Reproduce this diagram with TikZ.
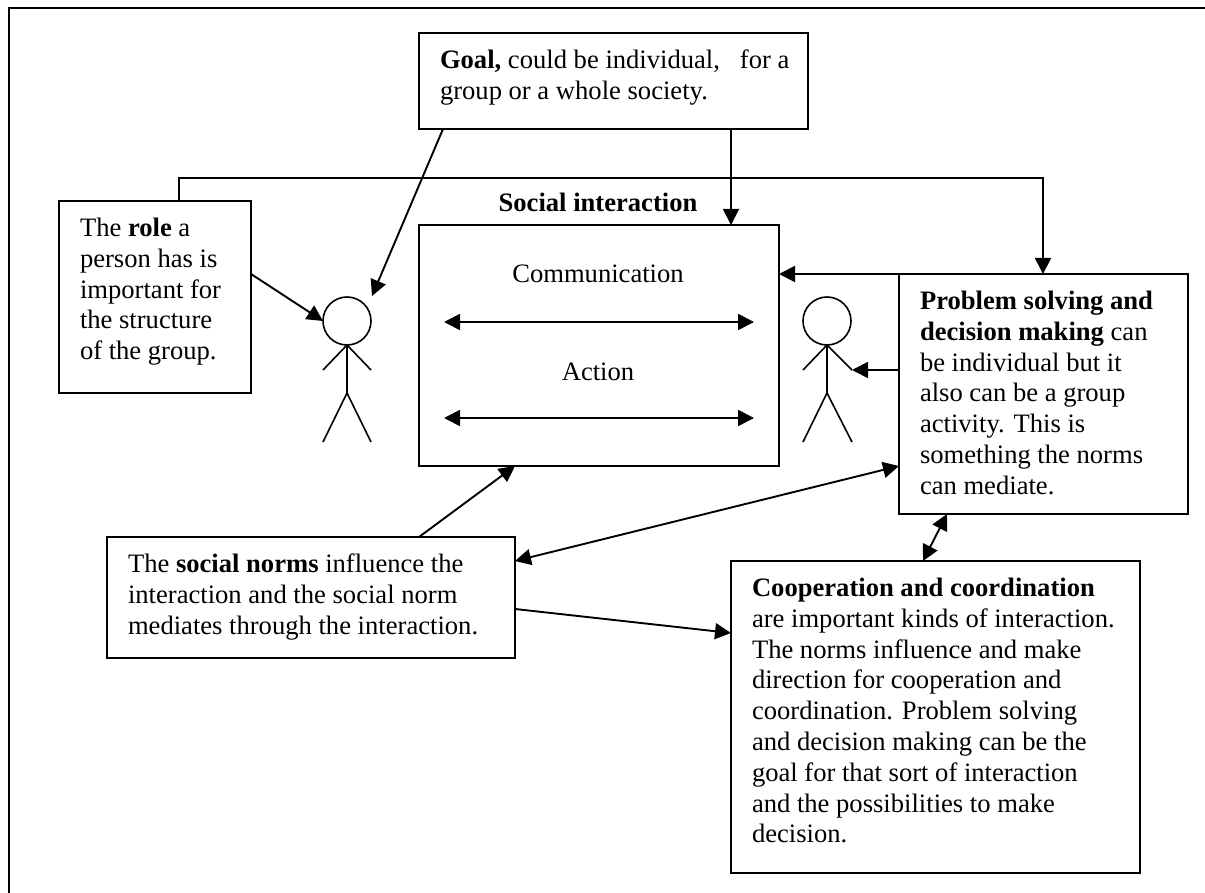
\documentclass[tikz,border=0pt]{standalone}
\usepackage{fontspec}
\setmainfont{Liberation Serif}
\usetikzlibrary{arrows.meta}
\newcommand{\boxnode}[6]{%
  \pgfmathsetlengthmacro{\bw}{#4-#2}\pgfmathsetlengthmacro{\bh}{#5-#3}%
  \pgfmathsetlengthmacro{\tw}{#4-#2-30}\pgfmathsetlengthmacro{\th}{#5-#3-28}%
  \node[tbox,minimum width=\bw,minimum height=\bh] (#1) at (#2,#3) {\parbox[c][\th][t]{\tw}{\raggedright\leftskip=6pt\strut #6}};}
\tikzset{
  tbox/.style={draw,line width=1.9pt,anchor=north west,inner xsep=15pt,inner ysep=14pt,outer sep=0pt,
    align=left,font=\fontsize{26.6}{30.8}\selectfont},
  lab/.style={anchor=base,inner sep=0pt,font=\fontsize{26.6}{30.8}\selectfont},
  line/.style={line width=1.9pt},
  arr/.style={line width=1.9pt,-{Triangle[length=16pt,width=16pt]}},
  darr/.style={line width=1.9pt,{Triangle[length=16pt,width=16pt]}-{Triangle[length=16pt,width=16pt]}},
  limb/.style={line width=1.6pt},
  head/.style={draw,circle,line width=1.6pt,minimum size=48pt,inner sep=0pt,outer sep=0pt},
}
\begin{document}
\begin{tikzpicture}[x=1pt,y=-1pt]
\useasboundingbox (0,0) rectangle (1205,893);
% outer frame
\coordinate (fbl) at (9,893);
\coordinate (ftl) at (9,8);
\coordinate (ftr) at (1205,8);
\draw[line] (fbl) -- (ftl) -- (ftr);
% boxes
\boxnode{goal}{419}{33}{808}{129}{\textbf{Goal,} could be individual,\ \ \ for a\\group or a whole society.}
\boxnode{role}{59}{201}{251}{393}{The \textbf{role} a\\person has is\\important for\\the structure\\of the group.}
\node[draw,line width=1.9pt,outer sep=0pt,anchor=north west,minimum width=360pt,minimum height=241pt] (social) at (419,225) {};
\boxnode{prob}{899}{274}{1188}{514}{\textbf{Problem solving and}\\\textbf{decision making} can\\be individual but it\\also can be a group\\activity. This is\\something the norms\\can mediate.}
\boxnode{norms}{107}{537}{515}{658}{The \textbf{social norms} influence the\\interaction and the social norm\\mediates through the interaction.}
\boxnode{coop}{731}{561}{1140}{873}{\textbf{Cooperation and coordination}\\are important kinds of interaction.\\The norms influence and make\\direction for cooperation and\\coordination. Problem solving\\and decision making can be the\\goal for that sort of interaction\\and the possibilities to make\\decision.}
% labels
\node[lab] (title) at (598,212) {\textbf{Social interaction}};
\node[lab] (comm) at (598,283) {Communication};
\node[lab] (act) at (598,381) {Action};
% arrows inside the interaction box
\coordinate (c1l) at (444,322); \coordinate (c1r) at (754,322);
\coordinate (c2l) at (444,418); \coordinate (c2r) at (754,418);
\draw[darr] (c1l) -- (c1r);
\draw[darr] (c2l) -- (c2r);
% figures
\node[head] (h1) at (347,321) {};
\coordinate (hip1) at (347,393);
\coordinate (al1) at (323,370); \coordinate (ar1) at (371,370);
\coordinate (ll1) at (323,442); \coordinate (lr1) at (371,442);
\draw[limb] (h1.south) -- (hip1) -- (ll1);
\draw[limb] (hip1) -- (lr1);
\draw[limb] (al1) -- (h1.south) -- (ar1);
\node[head] (h2) at (827,321) {};
\coordinate (hip2) at (827,393);
\coordinate (al2) at (803,370); \coordinate (ar2) at (852,370);
\coordinate (ll2) at (803,442); \coordinate (lr2) at (852,442);
\draw[limb] (h2.south) -- (hip2) -- (ll2);
\draw[limb] (hip2) -- (lr2);
\draw[limb] (al2) -- (h2.south) -- (ar2);
% connectors
\draw[arr] ([xshift=24pt]goal.south west) -- ([xshift=25pt,yshift=25pt]h1.center);
\draw[arr] ([yshift=-73pt]role.north east) -- (h1.west);
\draw[arr] ([xshift=312pt]goal.south west) -- ([xshift=-48pt]social.north east);
\draw[arr] ([xshift=120pt]role.north west) |- ++(0,-23) -| ([xshift=144pt]prob.north west);
\draw[arr] (prob.north west) -- ([yshift=-49pt]social.north east);
\draw[arr] ([yshift=-96pt]prob.north west) -- (ar2);
\draw[arr] ([xshift=312pt]norms.north west) -- ([xshift=96pt]social.south west);
\draw[darr] ([yshift=-24pt]norms.north east) -- ([yshift=48pt]prob.south west);
\draw[arr] ([yshift=-72pt]norms.north east) -- ([yshift=-72pt]coop.north west);
\draw[darr] ([xshift=48pt]prob.south west) -- ([xshift=192pt]coop.north west);
\end{tikzpicture}
\end{document}
